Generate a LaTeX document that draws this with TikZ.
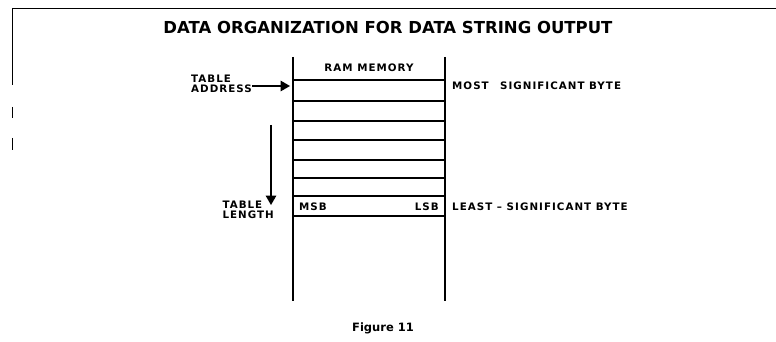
\documentclass[tikz,border=0pt]{standalone}
\usepackage{fontspec}
\setmainfont{DejaVu Sans}
\usepackage{tikz}
\usetikzlibrary{arrows,positioning}

\begin{document}
\begin{tikzpicture}[x=1pt, y=-1pt, >=triangle 60,
    every node/.style={inner sep=0pt, font={\bfseries\fontsize{10.3}{10}\selectfont\addfontfeatures{LetterSpace=10}}},
    memwall/.style={line width=2.4pt},
    memrow/.style={line width=1.4pt},
    pointer/.style={line width=1.6pt, ->}]
                     \useasboundingbox (0,0) rectangle (776,342);
                     \draw[thin] (12,8) -- (776,8);
                     \draw[thin] (12,8) -- (12,85);
                     \draw[thin] (12,107) -- (12,118) (12,138) -- (12,150);

                     \node at (388,27) [font={\bfseries\fontsize{16.5}{17}\selectfont}] (title) {DATA ORGANIZATION FOR DATA STRING OUTPUT};

                     % memory column
                     \coordinate (memtl) at (293,57);
                     \coordinate (memtr) at (445,57);
                     \coordinate (membl) at (293,301);
                     \coordinate (membr) at (445,301);
                     \draw[memwall] (memtl) -- (membl);
                     \draw[memwall] (memtr) -- (membr);
                     \node at (369,68) (ram) {RAM MEMORY};
                     \foreach \y in {80,101,121,140,160,178,196,216}
                         \draw[memrow] (293,\y) -- (445,\y);

                     \node at (299,207) [anchor=west] (msb) {MSB};
                     \node at (439,207) [anchor=east] (lsb) {LSB};
                     \node at (452,86) [anchor=west] (most) {MOST\hspace{1.1em}SIGNIFICANT BYTE};
                     \node at (452,207) [anchor=west] (least) {LEAST -- SIGNIFICANT BYTE};

                     % table pointers
                     \node at (252,84) [anchor=east, align=left] (addr) {TABLE\\ADDRESS};
                     \coordinate (addrtip) at (290,86);
                     \draw[pointer] (addr.east |- addrtip) -- (addrtip);
                     \node at (274,210) [anchor=east, align=left] (len) {TABLE\\LENGTH};
                     \coordinate (lentop) at (271,125);
                     \coordinate (lentip) at (271,205);
                     \draw[pointer] (lentop) -- (lentip);

                     \node at (383,328) [font={\bfseries\fontsize{11.5}{12}\selectfont}] (fig) {Figure 11};
                 \end{tikzpicture}
\end{document}
